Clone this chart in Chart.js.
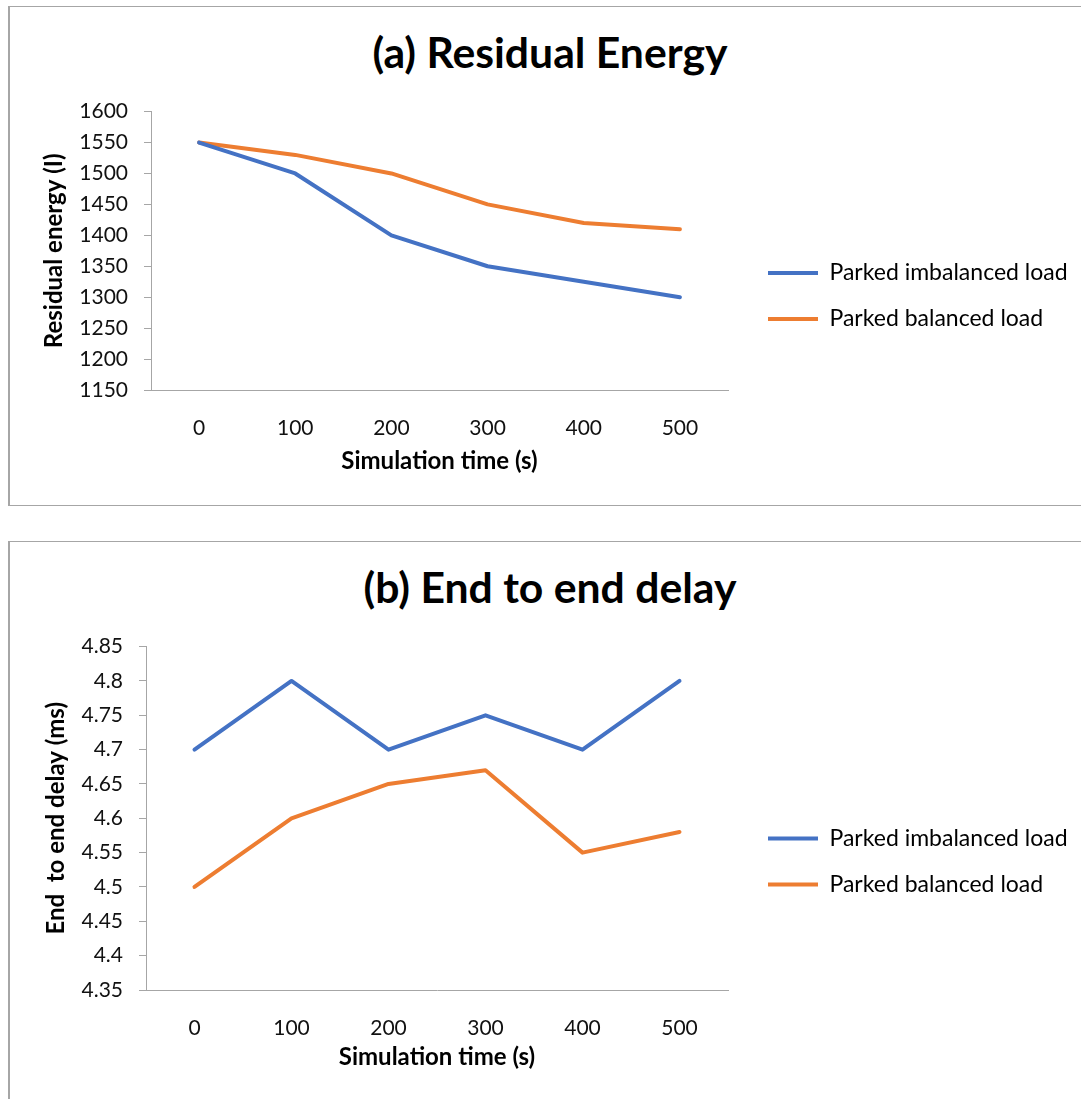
<!DOCTYPE html>
<html>
<head>
<meta charset="utf-8">
<script src="https://cdn.jsdelivr.net/npm/chart.js@4.4.1/dist/chart.umd.min.js"></script>
<style>
    body {
        margin: 0;
        width: 1081px;
        height: 1099px;
        overflow: hidden;
        position: relative;
        background: #fff;
        font-family: Lato, sans-serif;
    }
    .chart_box {
        position: absolute;
        left: 8px;
        width: 1080px;
        border: 1px solid #a6a6a6;
        border-left-width: 2px;
        overflow: hidden;
        background: #fff;
    }
    .chart_title {
        position: absolute;
        left: 0;
        top: 20px;
        width: 100%;
        text-align: center;
        font: bold 42.7px/50px Lato, sans-serif;
        color: #000;
    }
    .chart_box canvas {
        position: absolute;
        left: 0;
        top: 76px;
    }
</style>
</head>
<body>

<div class="chart_box" style="top:6px; height:498px;">
    <div class="chart_title">(a) Residual Energy</div>
    <canvas id="residual_energy_graph" width="1070" height="422"></canvas>
</div>

<div class="chart_box" style="top:541px; height:600px;">
    <div class="chart_title">(b) End to end delay</div>
    <canvas id="end_to_end_delay_graph" width="1070" height="481"></canvas>
</div>

<script>
// simulation time (s)
const time_labels        = ["0", "100", "200", "300", "400", "500"];

// (a) residual energy
const energy_imbalanced  = [1550, 1500, 1400, 1350, 1325, 1300];
const energy_balanced    = [1550, 1530, 1500, 1450, 1420, 1410];
const energy_ticks       = [1150, 1200, 1250, 1300, 1350, 1400, 1450, 1500, 1550, 1600];

// (b) end to end delay (ms)
const delay_imbalanced   = [4.70, 4.80, 4.70, 4.75, 4.70, 4.80];
const delay_balanced     = [4.50, 4.60, 4.65, 4.67, 4.55, 4.58];
const delay_ticks        = [4.35, 4.40, 4.45, 4.50, 4.55, 4.60, 4.65, 4.70, 4.75, 4.80, 4.85];

const series_names       = ["Parked imbalanced load", "Parked balanced load"];
const blue               = "#4472c4";
const orange             = "#ed7d31";
const axis_color         = "#a6a6a6";
const text_color         = "#111";

// moves the legend block to where the original sits (and widens its clip)
const legend_shift = {
    id: "legend_shift",
    afterLayout(chart, args, opts) {
        chart.legend.left   += opts.x;
        chart.legend.right   = chart.width;
        chart.legend.top    += opts.y;
        chart.legend.bottom += opts.y;
    }
};

function draw_line_graph(canvas_id, first, second, y_ticks, y_title, lay){
    const ctx     = document.getElementById(canvas_id).getContext("2d");
    const myChart = new Chart(ctx, {
        type: "line",
        data: {
            labels: time_labels,
            datasets: [
                {
                    label: series_names[0],
                    data: first,
                    borderColor: blue,
                    backgroundColor: blue,
                    borderWidth: 4,
                    borderCapStyle: "round",
                    borderJoinStyle: "round",
                    pointRadius: 0,
                    tension: 0
                },
                {
                    label: series_names[1],
                    data: second,
                    borderColor: orange,
                    backgroundColor: orange,
                    borderWidth: 4,
                    borderCapStyle: "round",
                    borderJoinStyle: "round",
                    pointRadius: 0,
                    tension: 0
                },
            ]
        },
        options: {
            responsive: false,
            animation: false,
            layout: {
                padding: {left: 0, top: 0, right: 52, bottom: 0}
            },
            scales: {
                x: {
                    offset: true,
                    grid: {display: false},
                    border: {color: axis_color, width: 1},
                    ticks: {
                        padding: 18,
                        color: text_color,
                        maxRotation: 0,
                        autoSkip: false,
                        font: {family: "Lato", size: 21}
                    },
                    title: {
                        display: true,
                        text: "Simulation time (s)",
                        color: "#000",
                        font: {family: "Lato", size: 24, weight: "bold"},
                        padding: {top: 0, bottom: lay.x_title_pad}
                    },
                    afterFit: function(scale){ scale.height = lay.x_height; }
                },
                y: {
                    min: y_ticks[0],
                    max: y_ticks[y_ticks.length - 1],
                    afterBuildTicks: function(scale){
                        scale.ticks = y_ticks.map(v => ({value: v}));
                    },
                    grid: {
                        display: true,
                        drawOnChartArea: false,
                        drawTicks: true,
                        tickLength: 7,
                        color: axis_color
                    },
                    border: {color: axis_color, width: 1},
                    ticks: {
                        padding: 16,
                        color: text_color,
                        font: {family: "Lato", size: 21},
                        callback: v => String(Number(v.toFixed(2)))
                    },
                    title: {
                        display: true,
                        text: y_title,
                        color: "#000",
                        font: {family: "Lato", size: 24, weight: "bold"},
                        padding: {top: lay.y_title_pad, bottom: 0}
                    },
                    afterFit: function(scale){ scale.width = lay.y_width; }
                }
            },
            plugins: {
                legend: {
                    position: "right",
                    align: "center",
                    maxWidth: 300,
                    labels: {
                        usePointStyle: true,
                        pointStyle: "line",
                        pointStyleWidth: 50,
                        padding: 23,
                        color: "#000",
                        font: {family: "Lato", size: 23}
                    }
                },
                legend_shift: {x: 17, y: lay.legend_dy},
                title: {display: false},
                tooltip: {enabled: false}
            }
        },
        plugins: [legend_shift]
    });
    return myChart;
}

draw_line_graph("residual_energy_graph", energy_imbalanced, energy_balanced, energy_ticks,
    "Residual energy (I)",
    {x_height: 115, x_title_pad: 29, y_width: 141, y_title_pad: 30, legend_dy: 2});

draw_line_graph("end_to_end_delay_graph", delay_imbalanced, delay_balanced, delay_ticks,
    "End  to end delay (ms)",
    {x_height: 109, x_title_pad: 27, y_width: 136, y_title_pad: 32, legend_dy: 3});
</script>
</body>
</html>
